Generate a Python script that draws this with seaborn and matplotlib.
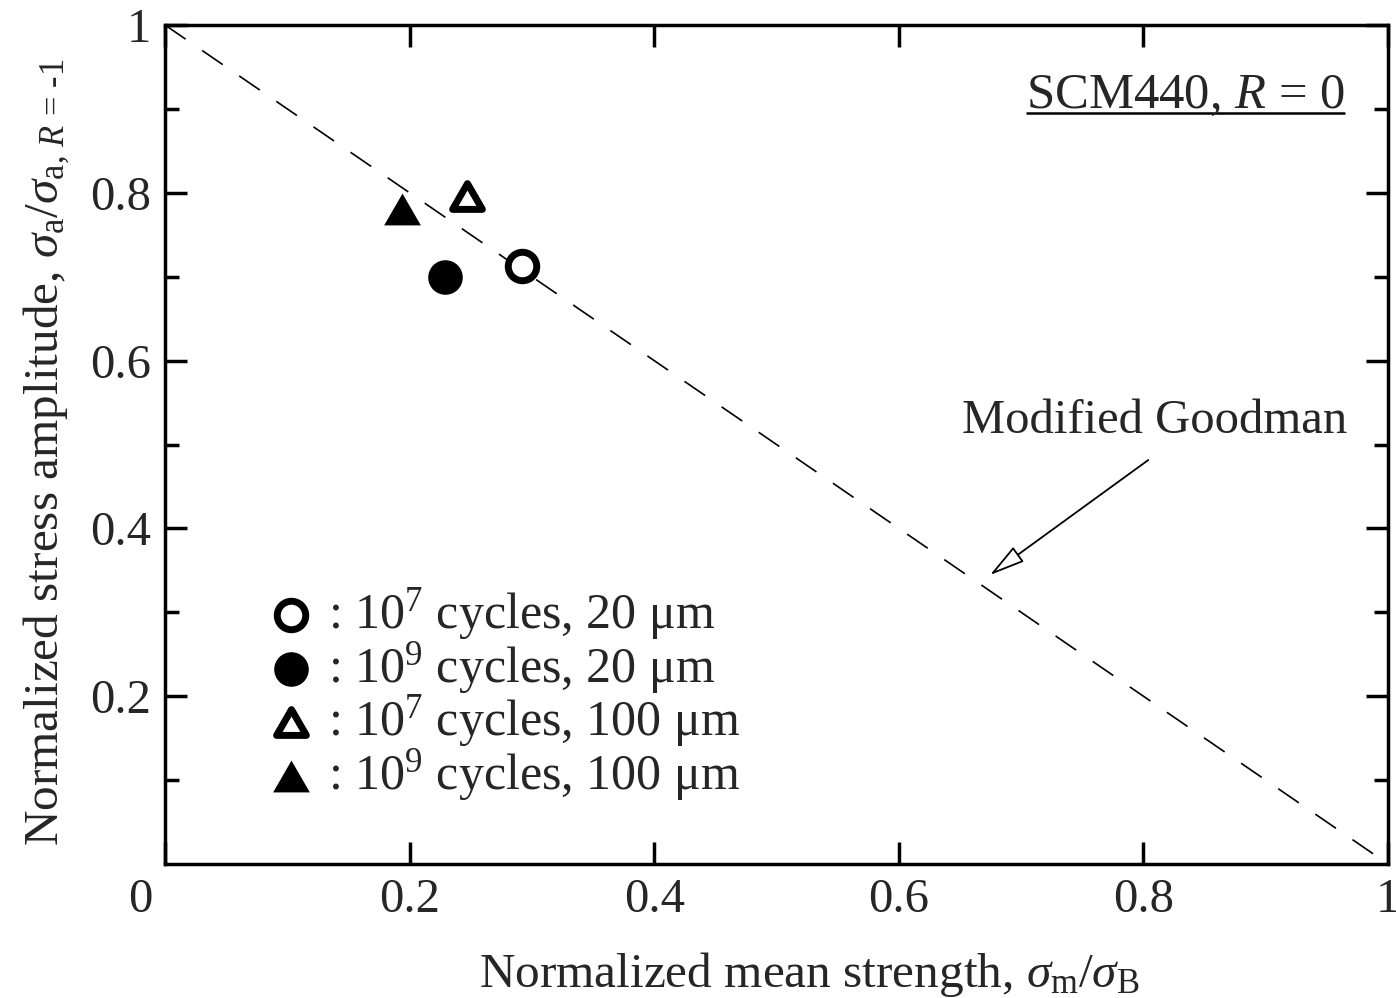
import numpy as np
import matplotlib
matplotlib.use('Agg')
import matplotlib.pyplot as plt
import matplotlib.transforms as mtransforms
from matplotlib.path import Path
import seaborn as sns

# measured points (normalized mean strength, normalized stress amplitude)
open_circle_x = [0.292]
open_circle_y = [0.713]
filled_circle_x = [0.229]
filled_circle_y = [0.700]
open_tri_x = [0.247]
open_tri_y = [0.796]
filled_tri_x = [0.194]
filled_tri_y = [0.781]

goodman_x = [0.0, 1.0]
goodman_y = [1.0, 0.0]

legend_labels = [': 10$^7$ cycles, 20 \u03bcm',
                 ': 10$^9$ cycles, 20 \u03bcm',
                 ': 10$^7$ cycles, 100 \u03bcm',
                 ': 10$^9$ cycles, 100 \u03bcm']

x_ticks = [0, 0.2, 0.4, 0.6, 0.8, 1.0]
x_ticklabels = ['0', '0.2', '0.4', '0.6', '0.8', '1']
y_ticks = [0.2, 0.4, 0.6, 0.8, 1.0]
y_ticklabels = ['0.2', '0.4', '0.6', '0.8', '1']
y_minor = [0.1, 0.3, 0.5, 0.7, 0.9]

sns.set_style('ticks')
plt.rcParams['font.family'] = ['Liberation Serif', 'DejaVu Serif']
plt.rcParams['mathtext.fontset'] = 'custom'
plt.rcParams['mathtext.rm'] = 'Liberation Serif'
plt.rcParams['mathtext.it'] = 'Liberation Serif:italic'
plt.rcParams['mathtext.bf'] = 'Liberation Serif:bold'

fig = plt.figure(figsize=(13.96, 9.98), dpi=100)
ax = fig.add_axes([165/1396, 1-864/998, (1388-165)/1396, (864-25)/998])

# equilateral triangle, closed, centred on its bounding box
tri = Path([(-1, -0.866), (1, -0.866), (0, 0.866), (-1, -0.866)],
           [Path.MOVETO, Path.LINETO, Path.LINETO, Path.CLOSEPOLY])

ax.plot(goodman_x, goodman_y, color='black', lw=1.2, linestyle=(0, (15, 12)), zorder=1)

sns.scatterplot(x=open_circle_x, y=open_circle_y, ax=ax, marker='o', s=420,
                facecolor='white', edgecolor='black', linewidth=5, label=legend_labels[0], zorder=3)
sns.scatterplot(x=filled_circle_x, y=filled_circle_y, ax=ax, marker='o', s=620,
                color='black', edgecolor='black', linewidth=0, label=legend_labels[1], zorder=3)
sns.scatterplot(x=open_tri_x, y=open_tri_y, ax=ax, marker=tri, s=460,
                facecolor='white', edgecolor='black', linewidth=5, label=legend_labels[2], zorder=3)
sns.scatterplot(x=filled_tri_x, y=filled_tri_y, ax=ax, marker=tri, s=700,
                color='black', edgecolor='black', linewidth=0, label=legend_labels[3], zorder=3)

ax.set_xlim(0, 1)
ax.set_ylim(0, 1)

ax.set_xticks(x_ticks)
ax.set_xticklabels(x_ticklabels)
ax.set_yticks(y_ticks)
ax.set_yticklabels(y_ticklabels)
ax.set_yticks(y_minor, minor=True)
ax.tick_params(which='both', direction='in', top=True, right=True, width=2.5, color='black')
ax.tick_params(which='major', length=16, labelsize=35)
ax.tick_params(axis='x', which='major', pad=10)
ax.tick_params(axis='y', which='major', pad=10)
ax.tick_params(which='minor', length=10)
for sp in ax.spines.values():
    sp.set_linewidth(2.5)
    sp.set_color('black')

# corner "0" sits left of the axis
lab0 = ax.get_xticklabels()[0]
lab0.set_transform(lab0.get_transform() + mtransforms.ScaledTranslation(-25/100, 0, fig.dpi_scale_trans))

ax.set_xlabel(r'Normalized mean strength, $\sigma_{\rm m}/\sigma_{\rm B}$', fontsize=35.5, labelpad=20)
ax.set_ylabel(r'Normalized stress amplitude, $\sigma_{\rm a}/\sigma_{{\rm a},\,R\,=\,\text{-}1}$',
              fontsize=35.5, labelpad=13)
ax.xaxis.label.set_x(0.527)
ax.yaxis.label.set_y(0.491)

leg = ax.legend(loc='upper left', bbox_to_anchor=(0.066, 0.355), frameon=False, fontsize=36,
                handletextpad=0.25, labelspacing=-0.05, handlelength=1.0, borderaxespad=0)

txt = ax.text(0.965, 0.901, 'SCM440, $R$ = 0', fontsize=36.5, ha='right', va='baseline')
ax.text(0.652, 0.514, 'Modified Goodman', fontsize=35, ha='left', va='baseline')
ax.annotate('', xy=(0.6746, 0.3445), xytext=(0.804, 0.4815),
            arrowprops=dict(arrowstyle='-|>,head_length=0.85,head_width=0.22', mutation_scale=26,
                            fc='white', ec='black', lw=1.3, shrinkA=0, shrinkB=0))

fig.canvas.draw()
bb = txt.get_window_extent().transformed(ax.transData.inverted())
ax.plot([bb.x0, bb.x1], [0.895, 0.895], color='black', lw=1.8, solid_capstyle='butt')

fig.savefig('out.png', dpi=100)
